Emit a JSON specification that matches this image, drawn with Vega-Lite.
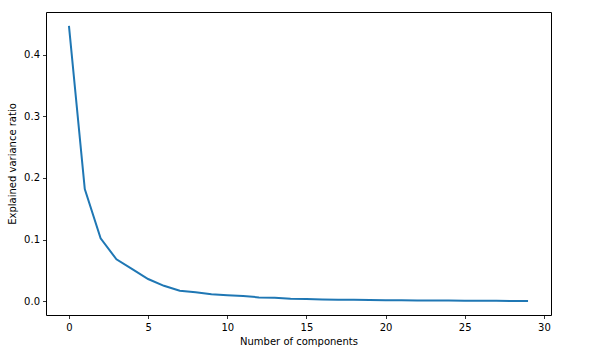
{
  "$schema": "https://vega.github.io/schema/vega-lite/v6.json",
  "width": 505,
  "height": 303,
  "autosize": {"type": "none"},
  "padding": {"left": 46, "top": 12, "right": 41, "bottom": 37},
  "background": "white",
  "data": {"values": [
    {"n": 0, "ratio": 0.447},
    {"n": 1, "ratio": 0.182},
    {"n": 2, "ratio": 0.102},
    {"n": 3, "ratio": 0.068},
    {"n": 4, "ratio": 0.052},
    {"n": 5, "ratio": 0.036},
    {"n": 6, "ratio": 0.025},
    {"n": 7, "ratio": 0.017},
    {"n": 8, "ratio": 0.0145},
    {"n": 9, "ratio": 0.0114},
    {"n": 10, "ratio": 0.0098},
    {"n": 11, "ratio": 0.0085},
    {"n": 12, "ratio": 0.0062},
    {"n": 13, "ratio": 0.0055},
    {"n": 14, "ratio": 0.0040},
    {"n": 15, "ratio": 0.0035},
    {"n": 16, "ratio": 0.0028},
    {"n": 17, "ratio": 0.0025},
    {"n": 18, "ratio": 0.0023},
    {"n": 19, "ratio": 0.0018},
    {"n": 20, "ratio": 0.0016},
    {"n": 21, "ratio": 0.0015},
    {"n": 22, "ratio": 0.0013},
    {"n": 23, "ratio": 0.0012},
    {"n": 24, "ratio": 0.0010},
    {"n": 25, "ratio": 0.0009},
    {"n": 26, "ratio": 0.0008},
    {"n": 27, "ratio": 0.0006},
    {"n": 28, "ratio": 0.0004},
    {"n": 29, "ratio": 0.0003}
  ]},
  "mark": {"type": "line", "color": "#1f77b4", "strokeWidth": 2, "clip": true},
  "encoding": {
    "x": {
      "field": "n", "type": "quantitative",
      "scale": {"domain": [-1.45, 30.45], "nice": false, "zero": false},
      "axis": {"values": [0, 5, 10, 15, 20, 25, 30], "format": "d", "title": "Number of components"}
    },
    "y": {
      "field": "ratio", "type": "quantitative",
      "scale": {"domain": [-0.0224, 0.4694], "nice": false, "zero": false},
      "axis": {"values": [0, 0.1, 0.2, 0.3, 0.4], "format": ".1f", "title": "Explained variance ratio"}
    }
  },
  "config": {
    "font": "DejaVu Sans",
    "view": {"stroke": "#000000", "strokeWidth": 1},
    "axis": {
      "grid": false,
      "domain": false,
      "ticks": true,
      "tickSize": 3.5,
      "tickColor": "#000000",
      "tickWidth": 0.8,
      "labelFont": "DejaVu Sans",
      "labelFontSize": 10,
      "labelColor": "#000000",
      "titleFont": "DejaVu Sans",
      "titleFontSize": 10,
      "titleFontWeight": "normal",
      "titleColor": "#000000"
    },
    "axisX": {"labelPadding": 4, "titlePadding": 4},
    "axisY": {"labelPadding": 3, "titlePadding": 6}
  }
}
